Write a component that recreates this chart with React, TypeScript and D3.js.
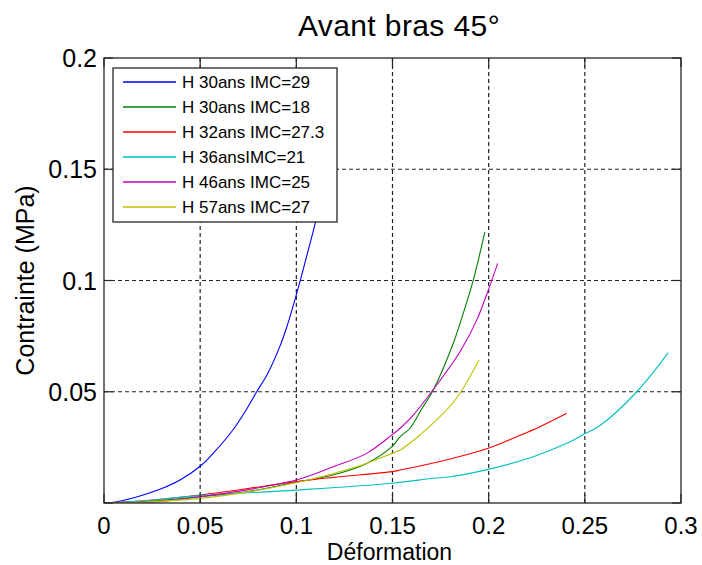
import React from "react";
import * as d3 from "d3";

const seriesNames = [
  "H 30ans IMC=29",
  "H 30ans IMC=18",
  "H 32ans IMC=27.3",
  "H 36ansIMC=21",
  "H 46ans IMC=25",
  "H 57ans IMC=27",
];
const seriesColors = ["#0000ff", "#008000", "#ff0000", "#00bfbf", "#bf00bf", "#bfbf00"];

const blueX = [0.003, 0.008, 0.016, 0.024, 0.032, 0.0395, 0.05, 0.058, 0.067, 0.074, 0.0794, 0.085, 0.0915, 0.095, 0.1019, 0.106, 0.1099, 0.113, 0.116, 0.119];
const blueY = [0, 0.0008, 0.0025, 0.0046, 0.0072, 0.0103, 0.0165, 0.0235, 0.0328, 0.042, 0.05, 0.058, 0.0705, 0.079, 0.0995, 0.113, 0.126, 0.138, 0.151, 0.165];

const greenX = [0, 0.012, 0.024, 0.05, 0.075, 0.0998, 0.119, 0.1366, 0.1497, 0.154, 0.1591, 0.165, 0.1712, 0.1816, 0.1868, 0.192, 0.198];
const greenY = [0, 0.0004, 0.0008, 0.0028, 0.0052, 0.0093, 0.0126, 0.0178, 0.0253, 0.0298, 0.0336, 0.042, 0.0508, 0.0718, 0.0853, 0.1002, 0.1217];

const redX = [0, 0.015, 0.05, 0.075, 0.0998, 0.1192, 0.1497, 0.154, 0.18, 0.1998, 0.2146, 0.2267, 0.2406];
const redY = [0, 0.0006, 0.0036, 0.0065, 0.0096, 0.0115, 0.0141, 0.0148, 0.0198, 0.0246, 0.0298, 0.0343, 0.0403];

const cyanX = [0, 0.015, 0.05, 0.0998, 0.1497, 0.171, 0.18, 0.1998, 0.2232, 0.2406, 0.2497, 0.2579, 0.277, 0.2934];
const cyanY = [0, 0.0006, 0.0033, 0.0058, 0.0089, 0.0111, 0.0118, 0.0151, 0.0208, 0.0268, 0.031, 0.0348, 0.05, 0.0676];

const magentaX = [0, 0.024, 0.05, 0.075, 0.0998, 0.1192, 0.1366, 0.1497, 0.154, 0.1608, 0.1712, 0.1851, 0.1938, 0.1998, 0.2047];
const magentaY = [0, 0.0003, 0.0028, 0.006, 0.0103, 0.0163, 0.0223, 0.0306, 0.0336, 0.0395, 0.051, 0.068, 0.0822, 0.0957, 0.1077];

const yellowX = [0.003, 0.015, 0.05, 0.075, 0.0998, 0.1192, 0.1366, 0.1497, 0.154, 0.1643, 0.1747, 0.18, 0.1851, 0.195];
const yellowY = [0, 0.0002, 0.0021, 0.005, 0.0091, 0.0133, 0.0178, 0.0223, 0.0238, 0.0306, 0.0388, 0.0436, 0.0493, 0.0643];

const seriesX = [blueX, greenX, redX, cyanX, magentaX, yellowX];
const seriesY = [blueY, greenY, redY, cyanY, magentaY, yellowY];

const xTicks = [0, 0.05, 0.1, 0.15, 0.2, 0.25, 0.3];
const yTicks = [0, 0.05, 0.1, 0.15, 0.2];
const xTickLabels = ["0", "0.05", "0.1", "0.15", "0.2", "0.25", "0.3"];
const yTickLabels = ["", "0.05", "0.1", "0.15", "0.2"];

const W = 702;
const H = 565;
const M = { left: 104, right: 681, top: 58, bottom: 503 };
const FONT = "'Liberation Sans', Arial, Helvetica, sans-serif";

export default function App() {
  const x = d3.scaleLinear().domain([0, 0.3]).range([M.left, M.right]);
  const y = d3.scaleLinear().domain([0, 0.2]).range([M.bottom, M.top]);
  const line = d3
    .line<[number, number]>()
    .x((d) => x(d[0]))
    .y((d) => y(d[1]))
    .curve(d3.curveCatmullRom.alpha(0.5));

  const tickLen = 9;
  const frame = "#262626";
  const legend = { x: 113, y: 68, w: 224, h: 154, row: 25 };

  return (
    <svg
      width={W}
      height={H}
      style={{ position: "absolute", left: 0, top: 0, background: "#fff" }}
      fontFamily={FONT}
    >
      <rect x={0} y={0} width={W} height={H} fill="#fff" />
      <defs>
        <clipPath id="plotclip">
          <rect x={M.left} y={M.top} width={M.right - M.left} height={M.bottom - M.top} />
        </clipPath>
      </defs>
      {/* grid */}
      {xTicks.slice(1, -1).map((t) => (
        <line key={"gx" + t} x1={x(t)} x2={x(t)} y1={M.top} y2={M.bottom} stroke="#222" strokeWidth={1.2} strokeDasharray="4,3" />
      ))}
      {yTicks.slice(1, -1).map((t) => (
        <line key={"gy" + t} x1={M.left} x2={M.right} y1={y(t)} y2={y(t)} stroke="#222" strokeWidth={1.2} strokeDasharray="4,3" />
      ))}
      {/* series */}
      <g clipPath="url(#plotclip)">
        {seriesX.map((xs, i) => (
          <path
            key={"s" + i}
            d={line(xs.map((v, j) => [v, seriesY[i][j]] as [number, number])) || ""}
            fill="none"
            stroke={seriesColors[i]}
            strokeWidth={1.1}
          />
        ))}
      </g>
      {/* ticks */}
      {xTicks.map((t) => (
        <g key={"tx" + t}>
          <line x1={x(t)} x2={x(t)} y1={M.bottom} y2={M.bottom - tickLen} stroke={frame} strokeWidth={1.2} />
          <line x1={x(t)} x2={x(t)} y1={M.top} y2={M.top + tickLen} stroke={frame} strokeWidth={1.2} />
        </g>
      ))}
      {yTicks.map((t) => (
        <g key={"ty" + t}>
          <line x1={M.left} x2={M.left + tickLen} y1={y(t)} y2={y(t)} stroke={frame} strokeWidth={1.2} />
          <line x1={M.right} x2={M.right - tickLen} y1={y(t)} y2={y(t)} stroke={frame} strokeWidth={1.2} />
        </g>
      ))}
      {/* frame */}
      <rect x={M.left} y={M.top} width={M.right - M.left} height={M.bottom - M.top} fill="none" stroke={frame} strokeWidth={1.3} />
      {/* tick labels */}
      {xTicks.map((t, i) => (
        <text key={"lx" + t} x={x(t)} y={534} textAnchor="middle" fontSize={24} fill="#000">
          {xTickLabels[i]}
        </text>
      ))}
      {yTicks.map((t, i) => (
        <text key={"ly" + t} x={97} y={y(t)} dy="0.36em" textAnchor="end" fontSize={25} fill="#000">
          {yTickLabels[i]}
        </text>
      ))}
      {/* axis labels */}
      <text x={(M.left + M.right) / 2 - 3} y={560} textAnchor="middle" fontSize={23} fill="#000">
        Déformation
      </text>
      <text
        transform={`translate(34, ${(M.top + M.bottom) / 2}) rotate(-90)`}
        textAnchor="middle"
        fontSize={25}
        fill="#000"
      >
        Contrainte (MPa)
      </text>
      {/* title */}
      <text x={399} y={36} textAnchor="middle" fontSize={30} letterSpacing={0.4} fill="#000">
        Avant bras 45°
      </text>
      {/* legend */}
      <rect x={legend.x} y={legend.y} width={legend.w} height={legend.h} fill="#fff" stroke={frame} strokeWidth={1.3} />
      {seriesNames.map((name, i) => {
        const cy = legend.y + 14 + i * legend.row;
        return (
          <g key={"lg" + i}>
            <line x1={123} x2={176} y1={cy} y2={cy} stroke={seriesColors[i]} strokeWidth={1.3} />
            <text x={182} y={cy} dy="0.36em" fontSize={17} fill="#000">
              {name}
            </text>
          </g>
        );
      })}
    </svg>
  );
}
